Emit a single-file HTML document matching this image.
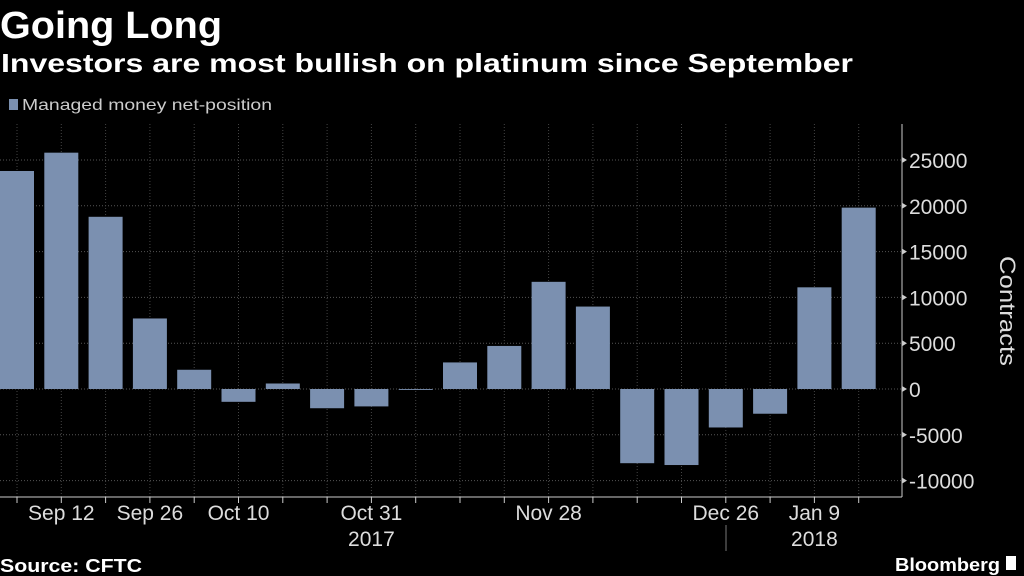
<!DOCTYPE html>
<html><head><meta charset="utf-8"><style>
html,body{margin:0;padding:0;background:#000;}
svg{display:block;font-family:"Liberation Sans",sans-serif;}
</style></head><body>
<svg id="chart" width="1024" height="576" viewBox="0 0 1024 576">
<rect width="1024" height="576" fill="#000"/>
<text x="0" y="38" font-size="38" font-weight="bold" fill="#fff" textLength="222" lengthAdjust="spacingAndGlyphs">Going Long</text>
<text x="1" y="72" font-size="26" font-weight="bold" fill="#fff" textLength="852" lengthAdjust="spacingAndGlyphs">Investors are most bullish on platinum since September</text>
<rect x="9" y="99" width="9" height="11" fill="#7b90b0"/>
<text x="22" y="110" font-size="16" fill="#ccc" textLength="250" lengthAdjust="spacingAndGlyphs">Managed money net-position</text>
<g id="grid"></g><g id="bars"></g><g id="axis"></g>
<text transform="translate(1000,311) rotate(90)" text-anchor="middle" font-size="22" fill="#ddd" textLength="110" lengthAdjust="spacingAndGlyphs">Contracts</text>
<text x="0" y="572" font-size="18" font-weight="bold" fill="#fff" textLength="142" lengthAdjust="spacingAndGlyphs">Source: CFTC</text>
<text x="1000" y="571" text-anchor="end" font-size="18" font-weight="bold" fill="#fff" textLength="105" lengthAdjust="spacingAndGlyphs">Bloomberg</text>
<rect x="1006" y="556" width="10" height="14" fill="#fff"/>
</svg>
<script>
const categories=["Sep 5","Sep 12","Sep 19","Sep 26","Oct 3","Oct 10","Oct 17","Oct 24","Oct 31","Nov 7","Nov 14","Nov 21","Nov 28","Dec 5","Dec 12","Dec 19","Dec 26","Jan 2","Jan 9","Jan 16"];
const values=[23800,25800,18800,7700,2100,-1400,600,-2100,-1900,-100,2900,4700,11700,9000,-8100,-8300,-4200,-2700,11100,19800];
const yTicks=[-10000,-5000,0,5000,10000,15000,20000,25000];
const xLabels=["Sep 12","Sep 26","Oct 10","Oct 31","Nov 28","Dec 26","Jan 9"];
const yearLabels=[{after:"Oct 31",text:"2017"},{after:"Jan 9",text:"2018"}];
const NS="http://www.w3.org/2000/svg";
const y=v=>389-v*(229/25000);
const x=i=>17+i*44.3;
const bw=34;
function mk(t,a,p){const e=document.createElementNS(NS,t);for(const k in a)e.setAttribute(k,a[k]);p.appendChild(e);return e;}
const grid=document.getElementById('grid'),bars=document.getElementById('bars'),axis=document.getElementById('axis');
yTicks.forEach(t=>{
 const g=mk('line',{x1:0,x2:902,y1:y(t),y2:y(t),stroke:'#555','stroke-dasharray':'1,2'},grid);
 
 
 const tk=mk('path',{d:`M902 ${y(t)-3} L907 ${y(t)} L902 ${y(t)+3}Z`,fill:'#ccc'},axis);
 
 
 const lb=mk('text',{x:909,y:y(t)+8,'font-size':21,fill:'#ddd'},axis);
 lb.textContent=t;
 
 
});
categories.forEach((c,i)=>{
 const g=mk('line',{x1:x(i),x2:x(i),y1:124,y2:497,stroke:'#444','stroke-dasharray':'1,2'},grid);
 
 
 const t=mk('line',{x1:x(i),x2:x(i),y1:497,y2:503,stroke:'#ccc'},axis);
 
 
 const v=values[i];
 const r=mk('rect',{x:x(i)-bw/2,y:Math.min(y(v),y(0)),width:bw,height:Math.abs(y(v)-y(0)),fill:'#7b90b0'},bars);
 
 
 if(xLabels.includes(c)){
  const l=mk('text',{x:x(i),y:520,'text-anchor':'middle','font-size':21,fill:'#ddd'},axis);
  l.textContent=c;
  
  
 }
});
yearLabels.forEach(yl=>{
 const i=categories.indexOf(yl.after);
 const l=mk('text',{x:x(i),y:546,'text-anchor':'middle','font-size':21,fill:'#ddd'},axis);
 l.textContent=yl.text;
 
 
});
const sep=mk('line',{x1:726,x2:726,y1:525,y2:551,stroke:'#777'},axis);


const xa=mk('line',{x1:0,x2:902,y1:497,y2:497,stroke:'#ccc'},axis);


const ya=mk('line',{x1:902,x2:902,y1:124,y2:497,stroke:'#ccc'},axis);


</script>
</body></html>
